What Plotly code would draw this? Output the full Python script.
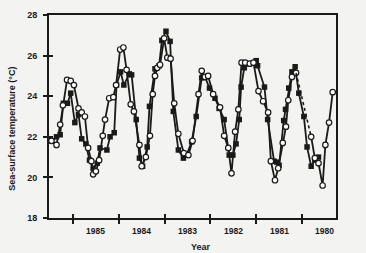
import plotly.graph_objects as go

# Open circles series (decimal year, SST °C)
circ_year = [1986.47, 1986.36, 1986.28, 1986.22, 1986.13, 1986.05, 1985.98, 1985.88, 1985.81, 1985.74,
             1985.67, 1985.60, 1985.56, 1985.50, 1985.43, 1985.35, 1985.30, 1985.21, 1985.12, 1985.06,
             1984.97, 1984.90, 1984.83, 1984.74, 1984.67, 1984.55, 1984.50, 1984.41, 1984.32, 1984.26,
             1984.21, 1984.16, 1984.10, 1984.01, 1983.94, 1983.87, 1983.79, 1983.70, 1983.58, 1983.48,
             1983.39, 1983.26, 1983.19, 1983.12, 1983.05, 1982.94, 1982.79, 1982.70, 1982.61, 1982.54,
             1982.46, 1982.39, 1982.32, 1982.24, 1982.14, 1982.06, 1981.95, 1981.85, 1981.74, 1981.68,
             1981.59, 1981.52, 1981.42, 1981.35, 1981.30, 1981.22, 1981.13]
circ_sst = [21.8, 21.6, 22.6, 23.55, 24.8, 24.75, 24.55, 23.4, 23.2, 23.0,
            21.45, 20.8, 20.15, 20.3, 20.85, 22.05, 22.85, 23.9, 23.95, 24.55,
            26.3, 26.4, 25.3, 23.6, 23.25, 21.6, 20.55, 21.0, 22.05, 24.1,
            25.0, 25.4, 25.55, 26.85, 25.9, 25.85, 23.65, 22.15, 21.2, 21.1,
            21.8, 24.1, 25.25, 24.95, 25.0, 24.1, 23.45, 22.05, 21.45, 20.2,
            22.25, 23.35, 25.65, 25.65, 25.6, 25.65, 24.25, 23.75, 23.2, 20.8,
            19.86, 20.45, 21.7, 22.5, 23.8, 24.95, 25.15]
# Circles after the dotted gap
circ2_year = [1980.80, 1980.72, 1980.64, 1980.55, 1980.49, 1980.41, 1980.33]
circ2_sst = [22.0, 20.95, 20.7, 19.6, 21.6, 22.7, 24.2]

# Filled squares series
sq_year = [1986.47, 1986.36, 1986.28, 1986.21, 1986.12, 1986.05, 1985.96, 1985.88, 1985.81, 1985.72,
           1985.64, 1985.56, 1985.47, 1985.41, 1985.26, 1985.19, 1985.10, 1985.05, 1984.96, 1984.89,
           1984.77, 1984.72, 1984.62, 1984.55, 1984.48, 1984.38, 1984.33, 1984.21, 1984.12, 1984.06,
           1983.97, 1983.88, 1983.81, 1983.70, 1983.59, 1983.52, 1983.41, 1983.31, 1983.19, 1983.12,
           1983.02, 1982.90, 1982.81, 1982.70, 1982.59, 1982.51, 1982.44, 1982.37, 1982.33, 1982.26,
           1982.15, 1982.00, 1981.97, 1981.82, 1981.75, 1981.61, 1981.55, 1981.50, 1981.40, 1981.36,
           1981.29, 1981.22, 1981.15, 1981.07, 1980.96, 1980.89, 1980.80, 1980.72, 1980.64]
sq_sst = [21.8, 22.0, 22.1, 23.65, 23.65, 24.15, 22.7, 23.1, 21.9, 21.65,
          20.85, 20.45, 20.7, 21.45, 21.35, 22.0, 22.2, 24.55, 25.2, 24.55,
          25.1, 25.05, 22.85, 20.95, 20.55, 21.5, 23.5, 25.35, 25.5, 26.75,
          27.2, 26.7, 23.25, 21.35, 20.95, 21.1, 21.75, 23.0, 24.9, 24.95,
          24.4, 23.9, 23.4, 22.85, 21.1, 21.1, 21.65, 22.85, 24.45, 25.4,
          25.6, 25.75, 25.5, 24.45, 22.85, 20.8, 20.75, 20.6, 22.8, 23.35,
          24.4, 25.2, 25.45, 24.15, 23.0, 21.5, 20.55, 20.85, 21.0]

year_bounds = [1986, 1985, 1984, 1983, 1982, 1981]
year_labels = ["1985", "1984", "1983", "1982", "1981", "1980"]
year_mids = [1985.5, 1984.5, 1983.5, 1982.5, 1981.5, 1980.5]
y_ticks = [18, 20, 22, 24, 26, 28]

ink = "#1a1a1a"
bg = "#f3f3f1"
font = "Liberation Sans"

fig = go.Figure()
line_style = dict(color=ink, width=1.8)

fig.add_trace(go.Scatter(x=sq_year, y=sq_sst, mode="lines+markers",
                         line=line_style,
                         marker=dict(symbol="square", size=5.5, color=ink, line=dict(width=0)),
                         showlegend=False))
fig.add_trace(go.Scatter(x=circ_year, y=circ_sst, mode="lines+markers",
                         line=line_style,
                         marker=dict(symbol="circle", size=5.5, color="white", line=dict(color=ink, width=1.2)),
                         showlegend=False))
fig.add_trace(go.Scatter(x=[circ_year[-1], circ2_year[0]], y=[circ_sst[-1], circ2_sst[0]], mode="lines",
                         line=dict(color=ink, width=1.6, dash="dot"), showlegend=False))
fig.add_trace(go.Scatter(x=circ2_year, y=circ2_sst, mode="lines+markers",
                         line=line_style,
                         marker=dict(symbol="circle", size=5.5, color="white", line=dict(color=ink, width=1.2)),
                         showlegend=False))

xr = [1986.524, 1980.258]
yr = [18, 28]
axis_common = dict(showgrid=False, zeroline=False, showline=True, linecolor=ink, linewidth=2)

fig.update_layout(
    width=366, height=253,
    margin=dict(l=49, r=30, t=10, b=35),
    paper_bgcolor=bg, plot_bgcolor=bg,
    font=dict(family=font, color=ink),
    xaxis=dict(range=xr, tickvals=year_bounds, ticktext=[""] * len(year_bounds),
               ticks="outside", ticklen=4, tickwidth=1.5, tickcolor=ink, mirror=True, **axis_common),
    yaxis=dict(range=yr, tickvals=y_ticks, ticks="outside", ticklen=4, tickwidth=1.5, tickcolor=ink,
               mirror=True, tickfont=dict(size=9, family=font, weight="bold"), ticklabelstandoff=4,
               **axis_common),
    xaxis2=dict(range=xr, overlaying="x", tickvals=year_bounds, ticktext=[""] * len(year_bounds),
                ticks="inside", ticklen=4, tickwidth=1.5, tickcolor=ink, showgrid=False, zeroline=False,
                showline=False, side="bottom"),
    yaxis2=dict(range=yr, overlaying="y", tickvals=y_ticks, showticklabels=False,
                ticks="inside", ticklen=4, tickwidth=1.5, tickcolor=ink, showgrid=False, zeroline=False,
                showline=False, side="left"),
)

# dummy trace to activate secondary axes
fig.add_trace(go.Scatter(x=[None], y=[None], xaxis="x2", yaxis="y2", showlegend=False, hoverinfo="skip"))

for lab, xm in zip(year_labels, year_mids):
    fig.add_annotation(x=xm, y=0, xref="x", yref="paper", text=lab, showarrow=False,
                       yanchor="top", yshift=-6, font=dict(size=8.5, family=font, weight="bold"))

fig.add_annotation(x=0.53, y=0, xref="paper", yref="paper", yanchor="top", yshift=-22,
                   text="Year", showarrow=False, font=dict(size=9, family=font, weight="bold"))
fig.add_annotation(x=0, y=0.44, xref="paper", yref="paper", xanchor="center", xshift=-37,
                   text="Sea-surface temperature (°C)", textangle=-90, showarrow=False,
                   font=dict(size=9, family=font, weight="bold"))

fig.write_html("out.html")
